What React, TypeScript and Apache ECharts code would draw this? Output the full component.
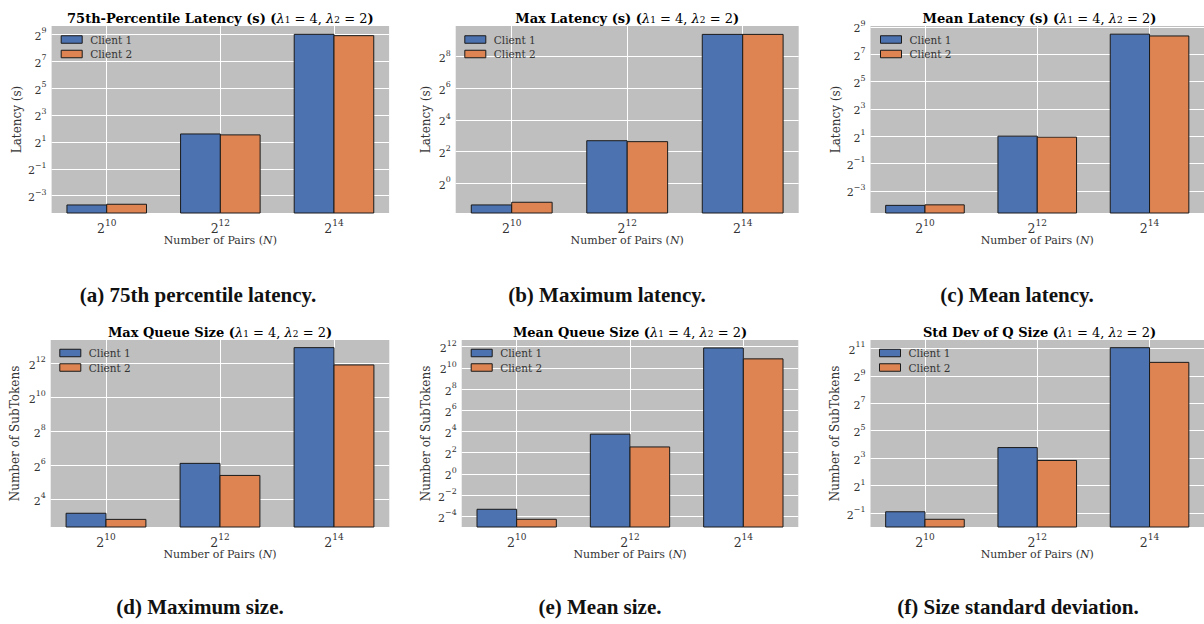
import React, { useEffect, useRef } from "react";
import * as echarts from "echarts";

// x categories: N = 2^10, 2^12, 2^14
const nExponents = [10, 12, 14];
const seriesNames = ["Client 1", "Client 2"];

// values (seconds / sub-tokens)
const p75Client1 = [0.0774, 3.01, 512];
const p75Client2 = [0.0802, 2.87, 478];
const maxLatClient1 = [0.387, 6.45, 680];
const maxLatClient2 = [0.435, 6.19, 680];
const meanLatClient1 = [0.0595, 2.0, 355];
const meanLatClient2 = [0.0611, 1.905, 324];
const maxQClient1 = [8.94, 68.6, 7750];
const maxQClient2 = [6.96, 41.9, 3822];
const meanQClient1 = [0.0988, 13.45, 3770];
const meanQClient2 = [0.0514, 5.82, 1846];
const stdQClient1 = [0.532, 13.64, 2120];
const stdQClient2 = [0.364, 7.11, 1010];

// y tick exponents (base 2)
const p75Ticks = [-3, -1, 1, 3, 5, 7, 9];
const maxLatTicks = [0, 2, 4, 6, 8];
const meanLatTicks = [-3, -1, 1, 3, 5, 7, 9];
const maxQTicks = [4, 6, 8, 10, 12];
const meanQTicks = [-4, -2, 0, 2, 4, 6, 8, 10, 12];
const stdQTicks = [-1, 1, 3, 5, 7, 9, 11];

// y axis ranges (log2)
const p75Range = [-4.29, 9.62];
const maxLatRange = [-1.88, 9.94];
const meanLatRange = [-4.63, 9.07];
const maxQRange = [2.35, 13.37];
const meanQRange = [-5.01, 12.63];
const stdQRange = [-2.02, 11.61];

const titles = [
  "75th-Percentile Latency (s)",
  "Max Latency (s)",
  "Mean Latency (s)",
  "Max Queue Size",
  "Mean Queue Size",
  "Std Dev of Q Size",
];
const yLabels = ["Latency (s)", "Latency (s)", "Latency (s)", "Number of SubTokens", "Number of SubTokens", "Number of SubTokens"];
const captions = [
  "(a) 75th percentile latency.",
  "(b) Maximum latency.",
  "(c) Mean latency.",
  "(d) Maximum size.",
  "(e) Mean size.",
  "(f) Size standard deviation.",
];

const panelData = [
  [p75Client1, p75Client2, p75Ticks, p75Range],
  [maxLatClient1, maxLatClient2, maxLatTicks, maxLatRange],
  [meanLatClient1, meanLatClient2, meanLatTicks, meanLatRange],
  [maxQClient1, maxQClient2, maxQTicks, maxQRange],
  [meanQClient1, meanQClient2, meanQTicks, meanQRange],
  [stdQClient1, stdQClient2, stdQTicks, stdQRange],
];

// layout (pixels)
const layout = [
  { left: 51.6, top: 26, width: 337.5, nameGap: 29, legend: [60.7, 33.5], caption: [198, 295] },
  { left: 455.7, top: 26, width: 343, nameGap: 24, legend: [464.3, 33.5], caption: [607, 295] },
  { left: 870.5, top: 26, width: 338, nameGap: 28.5, legend: [880, 33.5], caption: [1017, 295] },
  { left: 50.7, top: 340, width: 338.6, nameGap: 29.5, legend: [59.3, 347], caption: [200, 607] },
  { left: 461.7, top: 340, width: 336.6, nameGap: 30, legend: [470.7, 347], caption: [600, 607] },
  { left: 870.5, top: 340, width: 338, nameGap: 29.5, legend: [879, 347], caption: [1018, 607] },
];
const plotH = 187;

const COLORS = ["#4c72b0", "#dd8452"];
const SERIF = "DejaVu Serif";
const TXT = "#333333";

const minus = (v: number) => (v < 0 ? "\u2212" + -v : String(v));
const powRich = (size: number) => ({
  b: { fontFamily: SERIF, fontSize: size, color: TXT, lineHeight: size + 4, verticalAlign: "bottom" },
  sup: { fontFamily: SERIF, fontSize: size * 0.72, color: TXT, lineHeight: size * 0.72, verticalAlign: "top" },
});

const TS = 13;
const titleRich = {
  b: { fontFamily: SERIF, fontWeight: "bold", fontSize: TS, color: "#262626", lineHeight: 18, verticalAlign: "bottom" },
  m: { fontFamily: SERIF, fontStyle: "italic", fontSize: TS, color: "#262626", lineHeight: 18, verticalAlign: "bottom" },
  n: { fontFamily: SERIF, fontSize: TS, color: "#262626", lineHeight: 18, verticalAlign: "bottom" },
  s: { fontFamily: SERIF, fontSize: 9, color: "#262626", lineHeight: 9, verticalAlign: "bottom" },
};

const makeRender = (offset: number, color: string) => (params: any, api: any) => {
  const x = api.value(0);
  const y = api.value(1);
  const p0 = api.coord([x + offset - 0.175, y]);
  const p1 = api.coord([x + offset + 0.175, y]);
  const cs = params.coordSys;
  const bottom = cs.y + cs.height;
  return {
    type: "rect",
    shape: { x: p0[0], y: p0[1], width: p1[0] - p0[0], height: bottom - p0[1] },
    style: { fill: color, stroke: "#1a1a1a", lineWidth: 1 },
  };
};

export default function App() {
  const ref = useRef<HTMLDivElement>(null);
  useEffect(() => {
    if (!ref.current) return;
    const chart = echarts.init(ref.current, null, { renderer: "svg" });
    const grid: any[] = [];
    const xAxis: any[] = [];
    const yAxis: any[] = [];
    const series: any[] = [];
    const legend: any[] = [];
    const graphic: any[] = [];

    panelData.forEach((pd: any, i) => {
      const [c1, c2, ticks, range] = pd;
      const L = layout[i];
      grid.push({
        left: L.left,
        top: L.top,
        width: L.width,
        height: plotH,
        show: true,
        backgroundColor: "#bfbfbf",
        borderWidth: 0,
        containLabel: false,
      });
      xAxis.push({
        type: "value",
        gridIndex: i,
        min: -0.485,
        max: 2.485,
        axisLine: { show: false },
        axisTick: { show: false, customValues: [0, 1, 2] },
        splitLine: { show: true, lineStyle: { color: "#ffffff", width: 1 } },
        axisLabel: {
          customValues: [0, 1, 2],
          margin: 5,
          formatter: (v: number) => "{b|2}{sup|" + nExponents[Math.round(v)] + "}",
          rich: powRich(12.5),
        },
        name: "{n|Number of Pairs (}{i|N}{n|)}",
        nameLocation: "middle",
        nameGap: 21,
        nameTextStyle: {
          rich: {
            n: { fontFamily: SERIF, fontSize: 11, color: TXT },
            i: { fontFamily: SERIF, fontStyle: "italic", fontSize: 11, color: TXT },
          },
        },
      });
      yAxis.push({
        type: "value",
        gridIndex: i,
        min: range[0],
        max: range[1],
        axisLine: { show: false },
        axisTick: { show: false, customValues: ticks },
        splitLine: { show: true, lineStyle: { color: "#ffffff", width: 1 } },
        axisLabel: {
          customValues: ticks,
          margin: 5,
          formatter: (v: number) => "{b|2}{sup|" + minus(Math.round(v)) + "}",
          rich: powRich(11),
        },
        name: yLabels[i],
        nameLocation: "middle",
        nameGap: L.nameGap,
        nameTextStyle: { fontFamily: SERIF, fontSize: 12, color: TXT },
      });
      [c1, c2].forEach((vals: number[], k: number) => {
        series.push({
          type: "custom",
          name: seriesNames[k],
          xAxisIndex: i,
          yAxisIndex: i,
          itemStyle: { color: COLORS[k], borderColor: "#1a1a1a", borderWidth: 1 },
          encode: { x: 0, y: 1 },
          data: vals.map((v, j) => [j, Math.log2(v)]),
          renderItem: makeRender(k === 0 ? -0.175 : 0.175, COLORS[k]),
        });
      });
      legend.push({
        left: L.legend[0],
        top: L.legend[1],
        orient: "vertical",
        padding: 0,
        icon: "rect",
        itemWidth: 21,
        itemHeight: 7.5,
        itemGap: 2.5,
        selectedMode: false,
        data: seriesNames,
        itemStyle: { borderColor: "#1a1a1a", borderWidth: 1 },
        textStyle: { fontFamily: SERIF, fontSize: 10.5, color: TXT, lineHeight: 12, padding: [0, 0, 0, 3] },
      });
      graphic.push({
        type: "text",
        x: L.left + L.width / 2,
        y: L.top - 10.5,
        style: {
          text: "{b|" + titles[i] + " (}{m|λ}{s|1}{n| = 4, }{m|λ}{s|2}{n| = 2}{b|)}",
          rich: titleRich,
          align: "center",
          verticalAlign: "middle",
        },
      });
      graphic.push({
        type: "text",
        x: L.caption[0],
        y: L.caption[1],
        style: {
          text: captions[i],
          fontFamily: "Liberation Serif",
          fontWeight: "bold",
          fontSize: 21,
          fill: "#111111",
          align: "center",
          verticalAlign: "middle",
        },
      });
    });

    chart.setOption({
      animation: false,
      backgroundColor: "#ffffff",
      grid,
      xAxis,
      yAxis,
      series,
      legend,
      graphic,
    });
    return () => chart.dispose();
  }, []);
  return (
    <div
      ref={ref}
      style={{ position: "absolute", left: 0, top: 0, width: 1204, height: 624, background: "#fff" }}
    />
  );
}
